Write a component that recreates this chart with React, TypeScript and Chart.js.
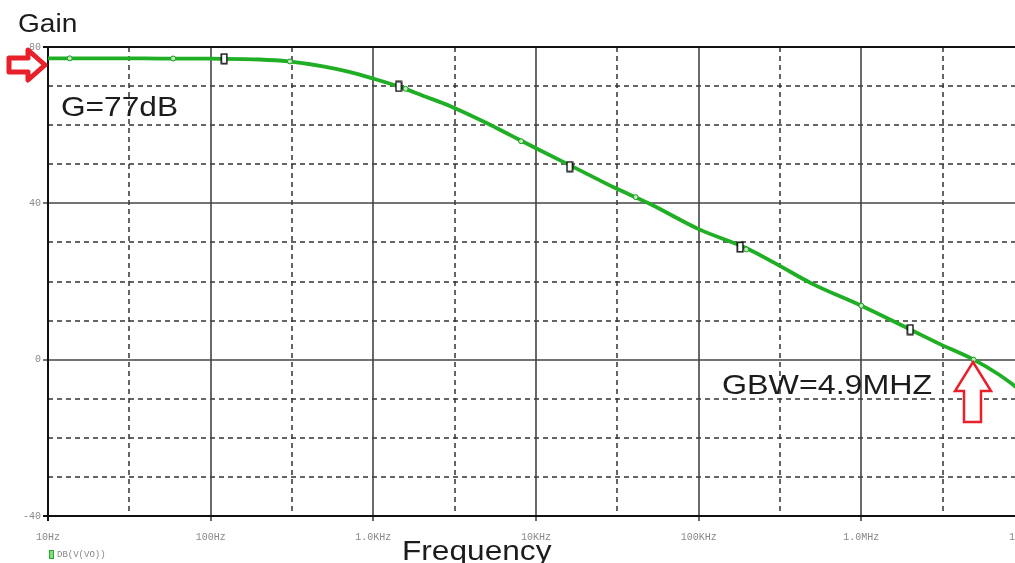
import React, { useEffect, useRef } from "react";
import { Chart, registerables } from "chart.js";

Chart.register(...registerables);

// ---- data ----
const freqHz = [10, 20, 50, 100, 200, 300, 500, 700, 1000, 1500, 2000, 3000, 5000, 7000, 10000, 20000, 30000, 50000, 100000, 200000, 300000, 500000, 1e6, 2e6, 3e6, 4.9e6, 7e6, 1e7];
const gainDb = [77.1, 77.1, 77.05, 77.0, 76.8, 76.3, 75.0, 73.7, 71.9, 69.6, 67.6, 64.8, 60.5, 57.4, 54.1, 47.8, 44.1, 39.9, 33.4, 28.4, 24.5, 19.4, 13.8, 7.7, 4.1, 0, -3.8, -8.5];

const squareMarkerFreq = [121, 1430, 16100, 180000, 2.0e6];
const squareMarkerDb = [77.0, 69.9, 49.4, 28.8, 7.7];

const dotMarkerFreq = [13.6, 58.8, 307, 1580, 8100, 41000, 196000, 1e6, 4.9e6];
const dotMarkerDb = [77.1, 77.05, 76.3, 69.3, 55.9, 41.6, 28.2, 13.8, 0];

const xDecades = [10, 100, 1e3, 1e4, 1e5, 1e6, 1e7];
const xTickLabels = ["10Hz", "100Hz", "1.0KHz", "10KHz", "100KHz", "1.0MHz", "10MHz"];
const xHalfDecades = [31.62, 316.2, 3162, 31623, 316228, 3162278];
const yTicks = [-40, 0, 40, 80];
const yDashed = [-30, -20, -10, 10, 20, 30, 50, 60, 70];

const GREEN = "#1fae24";

function makeSquareMarker(): HTMLCanvasElement {
  const c = document.createElement("canvas");
  c.width = 8;
  c.height = 12;
  const g = c.getContext("2d")!;
  g.fillStyle = "#ffffff";
  g.fillRect(1, 1, 6, 10);
  g.strokeStyle = "#111";
  g.lineWidth = 1.5;
  g.strokeRect(1.25, 1.25, 5.5, 9.5);
  return c;
}

function drawText(ctx: CanvasRenderingContext2D, text: string, x: number, base: number, size: number, sx: number) {
  ctx.save();
  ctx.translate(x, base);
  ctx.scale(sx, 1);
  ctx.font = `${size}px "Liberation Sans", Arial, sans-serif`;
  ctx.fillStyle = "#1c1c1c";
  ctx.textAlign = "left";
  ctx.textBaseline = "alphabetic";
  ctx.fillText(text, 0, 0);
  ctx.restore();
}

const gridPlugin = {
  id: "pspiceGrid",
  beforeDatasetsDraw(chart: any) {
    const { ctx, chartArea, scales } = chart;
    const { left, right, top, bottom } = chartArea;
    const x = scales.x;
    const y = scales.y;
    ctx.save();
    ctx.strokeStyle = "#333";
    ctx.setLineDash([5, 4]);
    ctx.lineWidth = 1.5;
    for (const v of yDashed) {
      const py = Math.round(y.getPixelForValue(v));
      ctx.beginPath();
      ctx.moveTo(left, py);
      ctx.lineTo(right, py);
      ctx.stroke();
    }
    for (const v of xHalfDecades) {
      const px = Math.round(x.getPixelForValue(v));
      ctx.beginPath();
      ctx.moveTo(px, top);
      ctx.lineTo(px, bottom);
      ctx.stroke();
    }
    ctx.setLineDash([]);
    ctx.strokeStyle = "#444";
    ctx.lineWidth = 1.6;
    for (const v of xDecades.slice(1)) {
      const px = Math.round(x.getPixelForValue(v));
      ctx.beginPath();
      ctx.moveTo(px, top);
      ctx.lineTo(px, bottom + 5);
      ctx.stroke();
    }
    for (const v of yTicks.slice(1, -1)) {
      const py = Math.round(y.getPixelForValue(v));
      ctx.beginPath();
      ctx.moveTo(left - 5, py);
      ctx.lineTo(right, py);
      ctx.stroke();
    }
    ctx.strokeStyle = "#111";
    ctx.lineWidth = 2;
    ctx.beginPath();
    ctx.moveTo(right, top);
    ctx.lineTo(left, top);
    ctx.lineTo(left, bottom);
    ctx.lineTo(right, bottom);
    ctx.stroke();
    ctx.beginPath();
    ctx.moveTo(left, bottom);
    ctx.lineTo(left, bottom + 5);
    ctx.moveTo(left - 5, bottom);
    ctx.lineTo(left, bottom);
    ctx.moveTo(left - 5, top);
    ctx.lineTo(left, top);
    ctx.stroke();
    ctx.restore();
  },
  afterDatasetsDraw(chart: any) {
    const { ctx } = chart;
    ctx.save();
    drawText(ctx, "Gain", 18, 32, 26, 1.08);
    drawText(ctx, "G=77dB", 61, 116, 28, 1.13);
    drawText(ctx, "GBW=4.9MHZ", 722, 394, 28, 1.15);
    drawText(ctx, "Frequency", 402, 560, 28, 1.13);

    ctx.fillStyle = "#8bd48b";
    ctx.fillRect(49, 550, 4, 8);
    ctx.strokeStyle = GREEN;
    ctx.lineWidth = 1;
    ctx.strokeRect(49.5, 550.5, 4, 8);
    ctx.font = '9px "Liberation Mono", monospace';
    ctx.fillStyle = "#888";
    ctx.textBaseline = "middle";
    ctx.textAlign = "left";
    ctx.fillText("DB(V(VO))", 57, 555);

    ctx.beginPath();
    ctx.moveTo(9, 58);
    ctx.lineTo(28, 58);
    ctx.lineTo(28, 50);
    ctx.lineTo(45, 65);
    ctx.lineTo(28, 80);
    ctx.lineTo(28, 72);
    ctx.lineTo(9, 72);
    ctx.closePath();
    ctx.fillStyle = "#fff";
    ctx.fill();
    ctx.strokeStyle = "#e8202a";
    ctx.lineJoin = "round";
    ctx.lineWidth = 5;
    ctx.stroke();

    ctx.beginPath();
    ctx.moveTo(973, 362);
    ctx.lineTo(991, 391);
    ctx.lineTo(981, 391);
    ctx.lineTo(981, 422);
    ctx.lineTo(964, 422);
    ctx.lineTo(964, 391);
    ctx.lineTo(955, 391);
    ctx.closePath();
    ctx.fillStyle = "#fff";
    ctx.fill();
    ctx.strokeStyle = "#e8202a";
    ctx.lineJoin = "miter";
    ctx.lineWidth = 2.5;
    ctx.stroke();
    ctx.restore();
  },
};

export default function App() {
  const canvasRef = useRef<HTMLCanvasElement | null>(null);

  useEffect(() => {
    if (!canvasRef.current) return;
    const squareImg = makeSquareMarker();
    const chart = new Chart(canvasRef.current, {
      type: "line",
      data: {
        datasets: [
          {
            label: "squares",
            data: squareMarkerFreq.map((f, i) => ({ x: f, y: squareMarkerDb[i] })),
            showLine: false,
            pointStyle: squareImg as any,
            pointRadius: 5,
            order: 0,
          },
          {
            label: "dots",
            data: dotMarkerFreq.map((f, i) => ({ x: f, y: dotMarkerDb[i] })),
            showLine: false,
            pointStyle: "circle",
            pointRadius: 2.5,
            pointBackgroundColor: "#bfe8bf",
            pointBorderColor: "#159a1a",
            pointBorderWidth: 1,
            order: 1,
          },
          {
            label: "DB(V(VO))",
            data: freqHz.map((f, i) => ({ x: f, y: gainDb[i] })),
            borderColor: GREEN,
            borderWidth: 3.8,
            pointRadius: 0,
            cubicInterpolationMode: "monotone",
            order: 2,
          },
        ],
      },
      options: {
        animation: false,
        responsive: true,
        maintainAspectRatio: false,
        events: [],
        layout: { padding: { top: 47, right: 0, left: 0, bottom: 0 } },
        plugins: { legend: { display: false }, tooltip: { enabled: false } },
        scales: {
          x: {
            type: "logarithmic",
            min: 10,
            max: 1e7,
            grid: { display: false, drawTicks: false },
            border: { display: false },
            afterBuildTicks: (s: any) => {
              s.ticks = xDecades.map((v) => ({ value: v }));
            },
            afterFit: (s: any) => {
              s.height = 47;
              s.paddingLeft = 0;
              s.paddingRight = 0;
            },
            ticks: {
              autoSkip: false,
              maxRotation: 0,
              padding: 15,
              color: "#888",
              font: { family: '"Liberation Mono", monospace', size: 10 },
              callback: (v: any) => {
                const i = xDecades.indexOf(Number(v));
                return i >= 0 ? xTickLabels[i] : "";
              },
            },
          },
          y: {
            type: "linear",
            min: -40,
            max: 80,
            grid: { display: false, drawTicks: false },
            border: { display: false },
            afterBuildTicks: (s: any) => {
              s.ticks = yTicks.map((v) => ({ value: v }));
            },
            afterFit: (s: any) => {
              s.width = 48;
              s.paddingTop = 0;
              s.paddingBottom = 0;
            },
            ticks: {
              padding: 7,
              color: "#888",
              font: { family: '"Liberation Mono", monospace', size: 10 },
              callback: (v: any) => String(v),
            },
          },
        },
      },
      plugins: [gridPlugin],
    });
    return () => chart.destroy();
  }, []);

  return (
    <div style={{ position: "fixed", left: 0, top: 0, width: 1015, height: 563, overflow: "hidden", background: "#fff" }}>
      <div style={{ position: "absolute", left: 0, top: 0, width: 1030, height: 563 }}>
        <canvas ref={canvasRef} />
      </div>
    </div>
  );
}
